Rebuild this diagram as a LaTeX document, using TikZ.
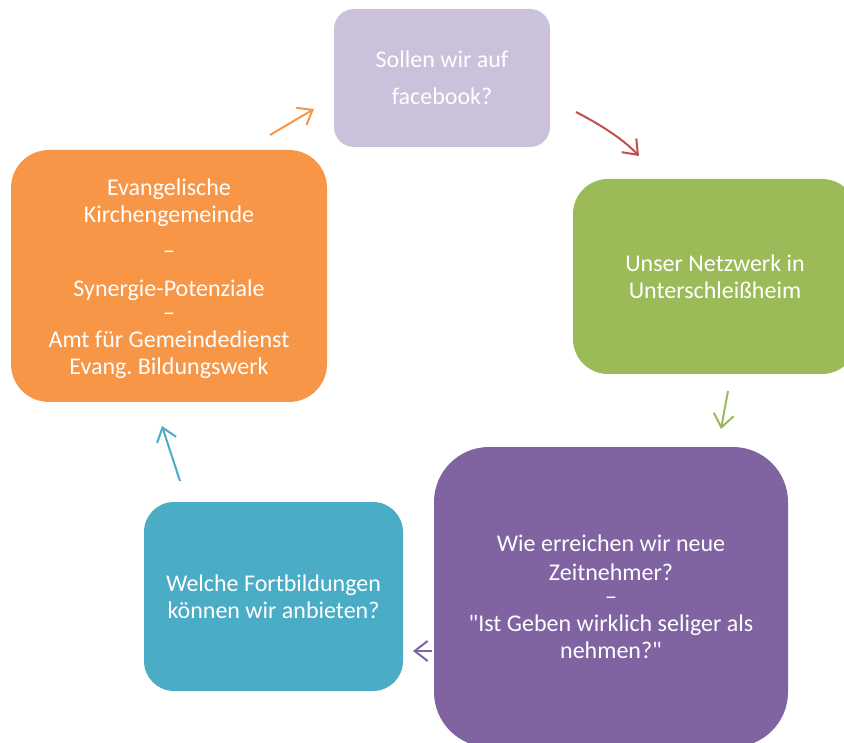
\documentclass[tikz,border=0pt]{standalone}
\usepackage{fontspec}
\setmainfont{Carlito}[Ligatures=TeXOff]
\usetikzlibrary{arrows.meta}
\frenchspacing
\definecolor{cOrange}{HTML}{F79646}
\definecolor{cRed}{HTML}{C0504D}
\definecolor{cGreen}{HTML}{9BBB59}
\definecolor{cPurple}{HTML}{8064A2}
\definecolor{cCyan}{HTML}{4BACC6}
\definecolor{cLilac}{HTML}{CCC1DA}
\tikzset{
  box/.style={rounded corners=#1, text=white, align=center, inner sep=0pt,
    font=\fontsize{24}{27}\selectfont},
  conn/.style={line width=2pt, -{Straight Barb[length=13pt,width=20pt]}},
}
\begin{document}
\begin{tikzpicture}[x=1pt,y=-1pt]
\useasboundingbox (0,0) rectangle (844,743);
\clip (0,0) rectangle (844,743);
\node[box=20pt, fill=cLilac, minimum width=216pt, minimum height=138pt] (top) at (442,78)
  {Sollen wir auf\\[10pt]facebook?};
\node[box=35pt, fill=cGreen, minimum width=284pt, minimum height=195pt] (net) at (715,276.5)
  {Unser Netzwerk in\\Unterschleißheim};
\node[box=55pt, fill=cPurple, minimum width=354pt, minimum height=300pt] (zeit) at (611,597)
  {Wie erreichen wir neue\\[2pt]Zeitnehmer?\\[-3pt]–\\"Ist Geben wirklich seliger als\\nehmen?"};
\node[box=30pt, fill=cCyan, minimum width=259pt, minimum height=189pt] (fort) at (273.5,596.5)
  {Welche Fortbildungen\\können wir anbieten?};
\node[box=38pt, fill=cOrange, minimum width=316pt, minimum height=252pt] (kirche) at (169,276)
  {};
\node[box=38pt, anchor=center] (kirchetext) at (169,279)
  {Evangelische\\Kirchengemeinde\\[9pt]–\\[11pt]Synergie-Potenziale\\[-3pt]–\\Amt für Gemeindedienst\\Evang. Bildungswerk};
\coordinate (a1s) at (270,135); \coordinate (a1e) at (314,109);
\coordinate (a2s) at (576,112); \coordinate (a2e) at (639,156);
\coordinate (a3s) at (728,391); \coordinate (a3e) at (721,429);
\coordinate (a4s) at (432,651); \coordinate (a4e) at (413,651);
\coordinate (a5s) at (180,481); \coordinate (a5e) at (162,426);
\draw[conn, cOrange] (a1s) -- (a1e);
\draw[conn, cRed] (a2s) .. controls (603,126) and (624,140) .. (a2e);
\draw[conn, cGreen] (a3s) -- (a3e);
\draw[conn, cPurple] (a4s) -- (a4e);
\draw[conn, cCyan] (a5s) -- (a5e);
\end{tikzpicture}
\end{document}
